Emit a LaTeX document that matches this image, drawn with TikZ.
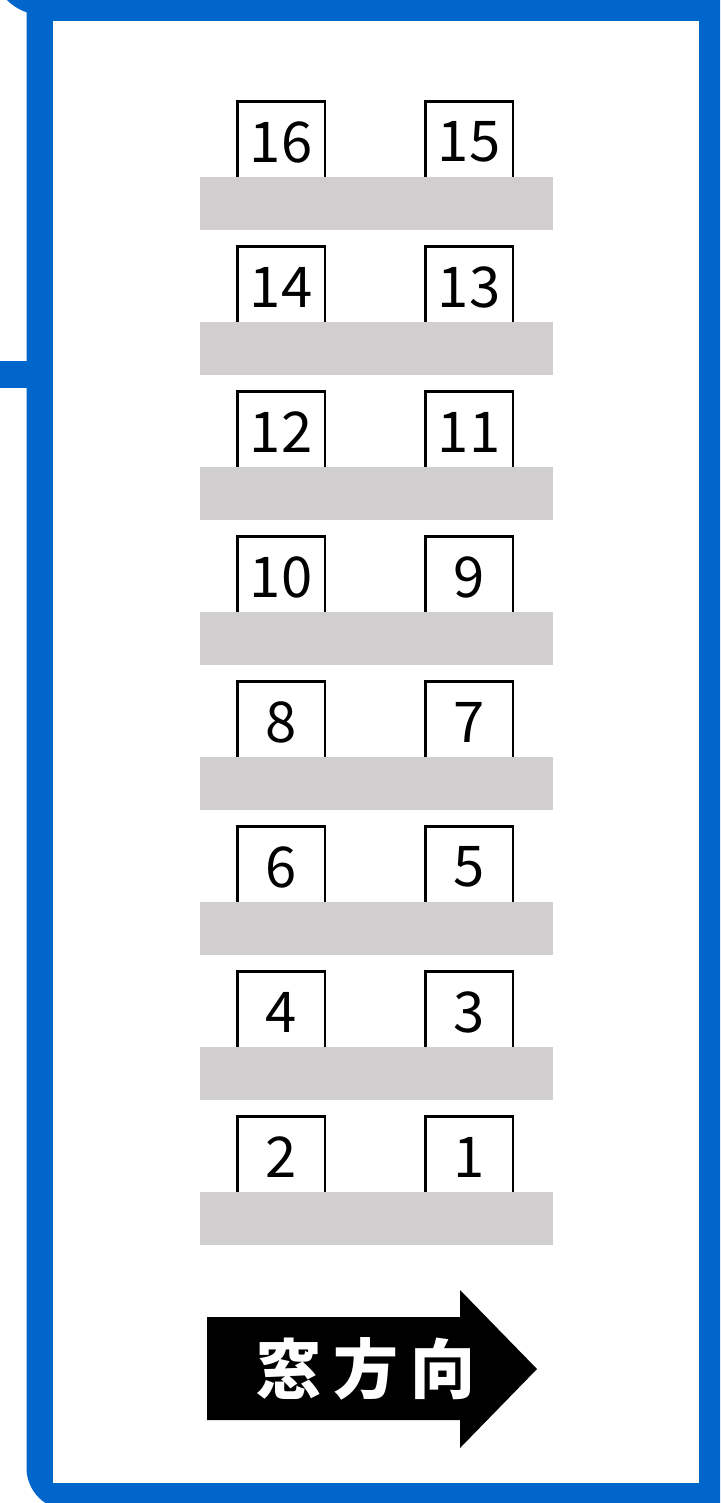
\documentclass[tikz,border=0pt]{standalone}
\usepackage{fontspec}
\setmainfont{Noto Sans CJK JP}
\usetikzlibrary{positioning}
\definecolor{wallblue}{RGB}{0,102,204}
\definecolor{deskgray}{RGB}{208,206,206}

\begin{document}
\begin{tikzpicture}[
    x=0.02cm, y=-0.02cm,
    seat/.style={draw, line width=1.7pt, minimum width=1.76cm, minimum height=1.62cm, inner sep=0pt, font=\fontsize{32}{32}\selectfont},
    desk/.style={fill=deskgray, minimum width=7.05cm, minimum height=1.06cm, inner sep=0pt},
    wall/.style={draw=wallblue, line width=15.4pt}
]
    \useasboundingbox (0,0) rectangle (720,1503);
    \clip (0,0) rectangle (720,1503);
    \fill[white] (0,0) rectangle (720,1503);

    % Room walls
    \fill[wallblue, rounded corners=24] (26.5,-40) rectangle (760,1510);
    \fill[white] (53,21) rectangle (699,1483);
    \draw[wall, rounded corners=21] (6,-60) -- (6,1.5) -- (40,1.5);
    \draw[wall] (-20,374.5) -- (40,374.5);

    % Row 1
    \node[seat] (s16) at (281,142) {16};
    \node[seat] (s15) at (469,142) {15};
    \node[desk] (d1) at (376.4,203.5) {};

    % Row 2
    \node[seat] (s14) at (281,287) {14};
    \node[seat] (s13) at (469,287) {13};
    \node[desk] (d2) at (376.4,348.5) {};

    % Row 3
    \node[seat] (s12) at (281,432) {12};
    \node[seat] (s11) at (469,432) {11};
    \node[desk] (d3) at (376.4,493.5) {};

    % Row 4
    \node[seat] (s10) at (281,577) {10};
    \node[seat] (s9) at (469,577) {9};
    \node[desk] (d4) at (376.4,638.5) {};

    % Row 5
    \node[seat] (s8) at (281,722) {8};
    \node[seat] (s7) at (469,722) {7};
    \node[desk] (d5) at (376.4,783.5) {};

    % Row 6
    \node[seat] (s6) at (281,867) {6};
    \node[seat] (s5) at (469,867) {5};
    \node[desk] (d6) at (376.4,928.5) {};

    % Row 7
    \node[seat] (s4) at (281,1012) {4};
    \node[seat] (s3) at (469,1012) {3};
    \node[desk] (d7) at (376.4,1073.5) {};

    % Row 8
    \node[seat] (s2) at (281,1157) {2};
    \node[seat] (s1) at (469,1157) {1};
    \node[desk] (d8) at (376.4,1218.5) {};

    % Window direction
    \fill[black] (207,1317) -- (460,1317) -- (460,1290) -- (537,1369) -- (460,1448) -- (460,1420) -- (207,1420) -- cycle;
    \node[text=white, font=\fontsize{37}{37}\selectfont\bfseries, inner sep=0pt] (window) at (366,1369) {窓\hspace{7pt}方\hspace{7pt}向};
\end{tikzpicture}
\end{document}
